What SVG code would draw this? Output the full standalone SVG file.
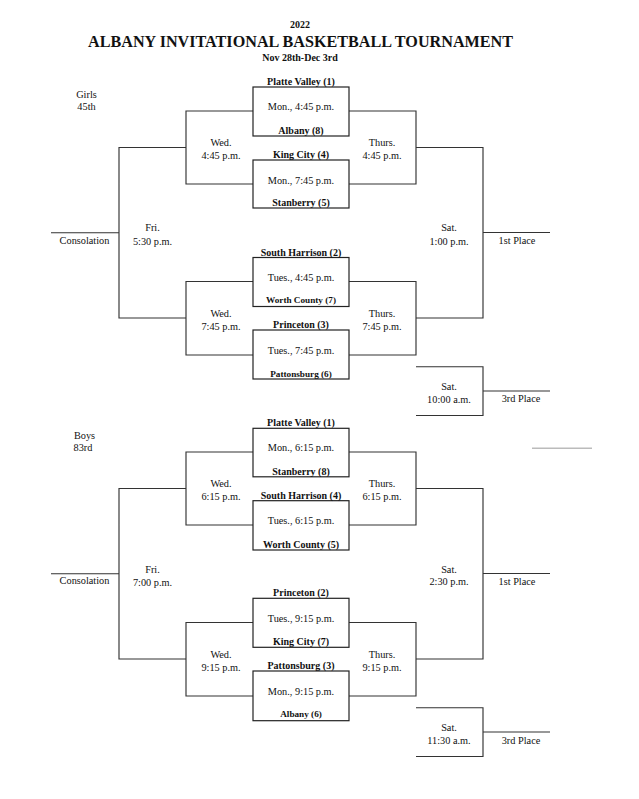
<svg xmlns="http://www.w3.org/2000/svg" width="639" height="799" viewBox="0 0 639 799">
<style>
.t{font-family:"Liberation Serif","Times New Roman",serif;font-size:10.3px;fill:#111;text-anchor:middle}
.b{font-weight:bold;font-size:10px}
.s{font-size:9.2px}
.ttl{font-size:17px}
.box{fill:none;stroke:#222;stroke-width:1.2}
.ln{fill:none;stroke:#333;stroke-width:1.15}
</style>
<defs>
<path id="bracket" d="M253,111H186V184H253M349,111H416V184H349M253,281.5H186V355H253M349,281.5H416V355H349M186,147.5H119V318H186M51,232.7H119M416,147.5H483V318H416M483,232.5H550M416,366.7H483V415.5H416M483,391H550"/>
</defs>
<rect width="639" height="799" fill="#fff"/>
<g id="header">
<text class="t b" x="300" y="28">2022</text>
<text class="t b ttl" x="300.5" y="46.7" textLength="425" lengthAdjust="spacingAndGlyphs">ALBANY INVITATIONAL BASKETBALL TOURNAMENT</text>
<text class="t b" x="300" y="60.7">Nov 28th-Dec 3rd</text>
</g>
<g id="connectors" class="ln">
<use href="#bracket"/>
<use href="#bracket" transform="translate(0,341)"/>
<line x1="532" y1="448.3" x2="592" y2="448.3" stroke="#bbb" stroke-width="1.4"/>
</g>
<g id="girls">
<g id="girls-label"><text class="t" x="86.5" y="98.3">Girls</text><text class="t" x="86.5" y="109.5">45th</text></g>
<g id="g-game1"><rect class="box" x="253" y="87" width="96" height="49"/><text class="t b" x="301" y="85">Platte Valley (1)</text><text class="t" x="301" y="110">Mon., 4:45 p.m.</text><text class="t b" x="301" y="134">Albany (8)</text></g>
<g id="g-game2"><rect class="box" x="253" y="160" width="96" height="48"/><text class="t b" x="301" y="158">King City (4)</text><text class="t" x="301" y="183.5">Mon., 7:45 p.m.</text><text class="t b" x="301" y="206">Stanberry (5)</text></g>
<g id="g-game3"><rect class="box" x="253" y="257.5" width="96" height="49"/><text class="t b" x="301" y="255.5">South Harrison (2)</text><text class="t" x="301" y="281">Tues., 4:45 p.m.</text><text class="t b s" x="301" y="303">Worth County (7)</text></g>
<g id="g-game4"><rect class="box" x="253" y="330" width="96" height="49"/><text class="t b" x="301" y="328">Princeton (3)</text><text class="t" x="301" y="353.5">Tues., 7:45 p.m.</text><text class="t b s" x="301" y="376.5">Pattonsburg (6)</text></g>
<g id="g-wed1"><text class="t" x="221" y="146">Wed.</text><text class="t" x="221" y="159">4:45 p.m.</text></g>
<g id="g-thu1"><text class="t" x="382" y="146">Thurs.</text><text class="t" x="382" y="159">4:45 p.m.</text></g>
<g id="g-wed2"><text class="t" x="221" y="317">Wed.</text><text class="t" x="221" y="329.5">7:45 p.m.</text></g>
<g id="g-thu2"><text class="t" x="382" y="317">Thurs.</text><text class="t" x="382" y="329.5">7:45 p.m.</text></g>
<g id="g-fri"><text class="t" x="152.5" y="231">Fri.</text><text class="t" x="152.5" y="244.5">5:30 p.m.</text></g>
<g id="g-cons"><text class="t" x="84.5" y="244">Consolation</text></g>
<g id="g-sat"><text class="t" x="449" y="231">Sat.</text><text class="t" x="449" y="244.5">1:00 p.m.</text></g>
<g id="g-first"><text class="t" x="517" y="243.5">1st Place</text></g>
<g id="g-sat3"><text class="t" x="449" y="390">Sat.</text><text class="t" x="449" y="402.5">10:00 a.m.</text></g>
<g id="g-third"><text class="t" x="521" y="401.5">3rd Place</text></g>
</g>
<g id="boys" transform="translate(0,341)">
<g id="boys-label"><text class="t" x="84.5" y="97.5">Boys</text><text class="t" x="83" y="110">83rd</text></g>
<g id="b-game1"><rect class="box" x="253" y="87.3" width="96" height="48.5"/><text class="t b" x="301" y="85">Platte Valley (1)</text><text class="t" x="301" y="110">Mon., 6:15 p.m.</text><text class="t b" x="301" y="133.5">Stanberry (8)</text></g>
<g id="b-game2"><rect class="box" x="253" y="159.7" width="96" height="49.3"/><text class="t b" x="301" y="158">South Harrison (4)</text><text class="t" x="301" y="183">Tues., 6:15 p.m.</text><text class="t b" x="301" y="206.7">Worth County (5)</text></g>
<g id="b-game3"><rect class="box" x="253" y="257.3" width="96" height="49"/><text class="t b" x="301" y="255">Princeton (2)</text><text class="t" x="301" y="281">Tues., 9:15 p.m.</text><text class="t b" x="301" y="304">King City (7)</text></g>
<g id="b-game4"><rect class="box" x="253" y="330" width="96" height="49.7"/><text class="t b" x="301" y="328.3">Pattonsburg (3)</text><text class="t" x="301" y="353.5">Mon., 9:15 p.m.</text><text class="t b s" x="301" y="375.7">Albany (6)</text></g>
<g id="b-wed1"><text class="t" x="221" y="146">Wed.</text><text class="t" x="221" y="159">6:15 p.m.</text></g>
<g id="b-thu1"><text class="t" x="382" y="146">Thurs.</text><text class="t" x="382" y="159">6:15 p.m.</text></g>
<g id="b-wed2"><text class="t" x="221" y="317">Wed.</text><text class="t" x="221" y="329.5">9:15 p.m.</text></g>
<g id="b-thu2"><text class="t" x="382" y="317">Thurs.</text><text class="t" x="382" y="329.5">9:15 p.m.</text></g>
<g id="b-fri"><text class="t" x="152.5" y="232">Fri.</text><text class="t" x="152.5" y="245">7:00 p.m.</text></g>
<g id="b-cons"><text class="t" x="84.5" y="243">Consolation</text></g>
<g id="b-sat"><text class="t" x="449" y="232">Sat.</text><text class="t" x="449" y="244">2:30 p.m.</text></g>
<g id="b-first"><text class="t" x="517" y="244">1st Place</text></g>
<g id="b-sat3"><text class="t" x="449" y="390">Sat.</text><text class="t" x="449" y="402.5">11:30 a.m.</text></g>
<g id="b-third"><text class="t" x="521" y="402.5">3rd Place</text></g>
</g>
</svg>
